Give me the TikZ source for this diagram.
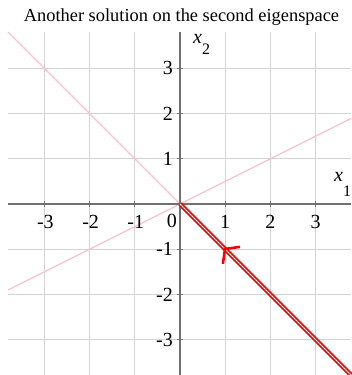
\documentclass[tikz,border=0pt]{standalone}
\usepackage{fontspec}
\setmainfont{Liberation Serif}
\usetikzlibrary{arrows.meta}
\definecolor{gridgray}{HTML}{D3D3D3}
\definecolor{axisgray}{HTML}{707070}
\definecolor{eigpink}{HTML}{FFC0CB}
\definecolor{solred}{HTML}{FF0000}
\begin{document}
\begin{tikzpicture}[x=45.2pt,y=45.2pt,
  gridline/.style={draw=gridgray, line width=1.1pt},
  axisline/.style={draw=axisgray, line width=1.7pt},
  tickmark/.style={draw=axisgray, line width=1pt},
  pinkline/.style={draw=eigpink, line width=1.2pt},
  solline/.style={draw=solred, line width=1.7pt, double=white, double distance=1pt},
  ticklab/.style={font=\fontsize{20}{20}\selectfont, inner sep=0pt},
  axlab/.style={font=\fontsize{20}{20}\selectfont\itshape, inner sep=0pt, anchor=base west},
  titlelab/.style={font=\fontsize{18.4}{18.4}\selectfont, inner sep=0pt, anchor=base}]
\useasboundingbox (-180pt,-171pt) rectangle (171pt,204pt);
\def\xmin{-3.805}\def\xmax{3.783}\def\ymin{-3.783}\def\ymax{3.805}
% grid
\foreach \k in {-3,-2,-1,1,2,3}{
  \draw[gridline] (\k,\ymin) -- (\k,\ymax);
  \draw[gridline] (\xmin,\k) -- (\xmax,\k);
}
% eigenspace lines
\coordinate (PA) at (\xmin,-\xmin);
\coordinate (PB) at (\xmax,-\xmax);
\coordinate (QA) at (\xmin,{\xmin/2});
\coordinate (QB) at (\xmax,{\xmax/2});
\draw[pinkline] (PA) -- (PB);
\draw[pinkline] (QA) -- (QB);
% axes
\coordinate (XL) at (\xmin,0);
\coordinate (XR) at (\xmax,0);
\coordinate (YB) at (0,\ymin);
\coordinate (YT) at (0,\ymax);
\draw[axisline] (XL) -- (XR);
\draw[axisline] (YB) -- (YT);
\foreach \k in {-3,-2,-1,1,2,3}{
  \draw[tickmark] (\k,-3pt) -- (\k,3pt);
  \draw[tickmark] (-3pt,\k) -- (3pt,\k);
}
% solution
\coordinate (O) at (0,0);
\coordinate (SE) at (3.783,-3.783);
\draw[solline] (O) -- (SE);
\coordinate (AT) at (0.97,-0.97);
\coordinate (AS) at (1.0,-1.0);
\draw[solred, line width=0.4pt, -{Straight Barb[length=9pt,width=24pt,line width=2.6pt]}] (AS) -- (AT);
% tick labels
\node[ticklab, anchor=base] (xm3) at ([xshift=1pt]-3,-24.5pt) {-3};
\node[ticklab, anchor=base] (xm2) at ([xshift=1pt]-2,-24.5pt) {-2};
\node[ticklab, anchor=base] (xm1) at ([xshift=1pt]-1,-24.5pt) {-1};
\node[ticklab, anchor=base] (x0) at (-8pt,-23pt) {0};
\node[ticklab, anchor=base] (xp1) at (1,-24.5pt) {1};
\node[ticklab, anchor=base] (xp2) at (2,-24.5pt) {2};
\node[ticklab, anchor=base] (xp3) at (3,-24.5pt) {3};
\node[ticklab, anchor=east] (y3) at (-7pt,3) {3};
\node[ticklab, anchor=east] (y2) at (-7pt,2) {2};
\node[ticklab, anchor=east] (y1) at (-7pt,1) {1};
\node[ticklab, anchor=east] (ym1) at (-7pt,-1) {-1};
\node[ticklab, anchor=east] (ym2) at (-7pt,-2) {-2};
\node[ticklab, anchor=east] (ym3) at (-7pt,-3) {-3};
% axis labels
\node[axlab] (x1lab) at (154pt,23pt) {x\raisebox{-15pt}{\upshape\fontsize{16}{16}\selectfont 1}};
\node[axlab] (x2lab) at (13pt,160pt) {x\raisebox{-11pt}{\upshape\fontsize{16}{16}\selectfont 2}};
% title
\node[titlelab] (title) at (1.5pt,182.5pt) {Another solution on the second eigenspace};
\end{tikzpicture}
\end{document}
